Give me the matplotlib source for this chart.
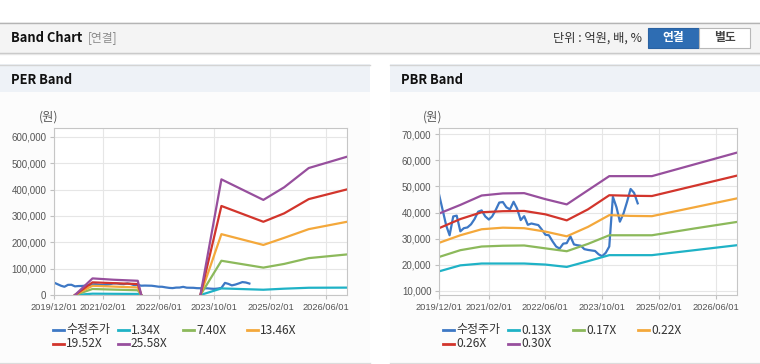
import numpy as np
import pandas as pd
import matplotlib
matplotlib.use('Agg')
import matplotlib.pyplot as plt
import matplotlib.dates as mdates
import matplotlib.ticker as mticker
from matplotlib.patches import Rectangle
from matplotlib.lines import Line2D

plt.rcParams['font.family'] = ['Noto Sans CJK KR', 'DejaVu Sans']

# ---- data ----
price_dates = pd.date_range('2019-12-01', periods=57, freq='MS')
price = [47000, 41000, 35000, 31300, 38500, 38800, 32800, 34000, 34300, 35500,
         37500, 40300, 40800, 38500, 37300, 38500, 41000, 43800, 44000, 42000,
         41200, 44100, 41500, 37100, 38600, 35300, 35800, 35500, 35200, 33500,
         31500, 31300, 29000, 27000, 26200, 28100, 28300, 30900, 27800, 27500,
         27300, 26000, 25700, 25500, 25300, 24000, 23300, 24600, 27000, 46000,
         42000, 36500, 39600, 44000, 49000, 47500, 43500]

per_dates = pd.to_datetime(['2020-06-01', '2020-11-01', '2021-05-01', '2021-12-01',
                            '2022-01-01', '2022-06-01', '2023-06-01', '2023-12-01',
                            '2024-12-01', '2025-06-01', '2026-01-01', '2026-12-01'])
per_labels = ['1.34X', '7.40X', '13.46X', '19.52X', '25.58X']
per_134 = [0, 5000, 4500, 4000, 0, np.nan, 0, 25000, 20000, 24000, 27500, 28000]
per_740 = [0, 22800, 20500, 18000, 0, np.nan, 0, 130000, 104000, 118000, 140000, 154000]
per_1346 = [0, 35000, 32000, 28500, 0, np.nan, 0, 231000, 190000, 217000, 250000, 278000]
per_1952 = [0, 48000, 45000, 41500, 0, np.nan, 0, 338000, 278000, 310000, 364000, 401000]
per_2558 = [0, 63000, 58000, 54000, 0, np.nan, 0, 439000, 361000, 409000, 482000, 525000]

pbr_dates = pd.to_datetime(['2019-12-01', '2020-06-01', '2020-12-01', '2021-06-01',
                            '2021-12-01', '2022-06-01', '2022-12-01', '2023-06-01',
                            '2023-12-01', '2024-06-01', '2024-12-01', '2025-12-01',
                            '2026-12-01'])
pbr_labels = ['0.13X', '0.17X', '0.22X', '0.26X', '0.30X']
pbr_013 = [17500, 19800, 20500, 20500, 20500, 20100, 19200, 21400, 23700, 23700, 23700, 25600, 27500]
pbr_017 = [23000, 25600, 27000, 27300, 27400, 26300, 25200, 28000, 31300, 31300, 31300, 33900, 36400]
pbr_022 = [28400, 31300, 33600, 34200, 34000, 32700, 30900, 34500, 39000, 38700, 38600, 42000, 45400]
pbr_026 = [34000, 37500, 40100, 40500, 40600, 39300, 37000, 41200, 46600, 46400, 46300, 50200, 54100]
pbr_030 = [39600, 42900, 46500, 47300, 47400, 45100, 43100, 48500, 53900, 53900, 53900, 58400, 62900]

tick_dates = pd.to_datetime(['2019-12-01', '2021-02-01', '2022-06-01',
                             '2023-10-01', '2025-02-01', '2026-06-01'])

colors = ['#3d78c5', '#1fb2c6', '#8cb95b', '#f4a83b', '#d2352c', '#974f9d']

W, H = 760, 364
fig = plt.figure(figsize=(W / 100, H / 100), dpi=100)
fig.patch.set_facecolor('white')


def rect(x0, y0, x1, y1, z=-5, **kw):
    fig.add_artist(Rectangle((x0 / W, 1 - y1 / H), (x1 - x0) / W, (y1 - y0) / H,
                             transform=fig.transFigure, zorder=z, **kw))


def hline(x0, x1, y, color, lw=1):
    fig.add_artist(Line2D([x0 / W, x1 / W], [1 - y / H] * 2,
                          transform=fig.transFigure, color=color, lw=lw, zorder=-4))


def text(x, y, s, **kw):
    fig.text(x / W, 1 - y / H, s, **kw)


# header bar
rect(0, 22, W, 53, fc='#f4f4f4', ec='none')
hline(0, W, 22.5, '#b4b4b4')
hline(0, W, 53, '#c4c4c4')
hline(0, W, 54, '#e6e6e6')
text(11, 38, 'Band Chart', fontsize=9.3, fontweight='bold', color='#111', va='center')
text(88, 38, '[연결]', fontsize=8.5, color='#8a8a8a', va='center')
text(642, 38, '단위 : 억원, 배, %', fontsize=8.8, color='#333', va='center', ha='right')
rect(648, 28, 699, 48, z=1, fc='#2e6db3', ec='#2a62a2', lw=0.8)
rect(699, 28, 750, 48, z=1, fc='white', ec='#b8b8b8', lw=0.8)
text(673.5, 37.5, '연결', fontsize=8.5, fontweight='bold', color='white', va='center', ha='center')
text(724.5, 37.5, '별도', fontsize=8.5, fontweight='bold', color='#444', va='center', ha='center')

# panels
for x0, x1, title in [(0, 370, 'PER Band'), (390, W, 'PBR Band')]:
    rect(x0, 92, x1, 362, fc='#fcfcfc', ec='none')
    rect(x0, 64, x1, 92, fc='#eef2f7', ec='none')
    hline(x0, x1, 64.5, '#d4d4d4')
    hline(x0, x1, 362.5, '#dcdcdc')
    text(x0 + 11, 79.5, title, fontsize=9.3, fontweight='bold', color='#111', va='center')


def style(ax):
    ax.set_facecolor('white')
    for s in ax.spines.values():
        s.set_color('#c6c6c6')
        s.set_linewidth(0.8)
    ax.grid(True, color='#e6e6e6', lw=0.8)
    ax.set_axisbelow(True)
    ax.tick_params(length=3, width=0.8, color='#c0c0c0', labelcolor='#555',
                   labelsize=7, pad=2.5, labelfontfamily='Liberation Sans')
    ax.tick_params(axis='x', labelsize=6.7)
    ax.set_xticks(tick_dates)
    ax.xaxis.set_major_formatter(mdates.DateFormatter('%Y/%m/%d'))
    ax.yaxis.set_major_formatter(mticker.FuncFormatter(lambda v, p: f'{int(v):,}'))
    ax.set_xlim(pd.Timestamp('2019-12-01'), pd.Timestamp('2026-12-01'))


def legend(x_cols, labels):
    rows = [330, 343.5]
    for i, (lab, c) in enumerate(zip(labels, colors)):
        x = x_cols[i % 4]
        y = rows[i // 4]
        fig.add_artist(Line2D([x / W, (x + 11) / W], [1 - y / H] * 2,
                              transform=fig.transFigure, color=c, lw=2))
        text(x + 13, y, lab, fontsize=8.6, color='#333', va='center')


# PER chart
ax1 = fig.add_axes([54 / W, 1 - 295 / H, 293 / W, 167 / H])
ax1.plot(price_dates, price, color=colors[0], lw=1.6)
for vals, c in zip([per_134, per_740, per_1346, per_1952, per_2558], colors[1:]):
    ax1.plot(per_dates, vals, color=c, lw=1.6)
style(ax1)
ax1.set_ylim(0, 634000)
ax1.set_yticks(np.arange(0, 600001, 100000))
text(39, 117, '(원)', fontsize=8.8, color='#555', va='center')
legend([53, 118, 183, 247], ['수정주가'] + per_labels)

# PBR chart
ax2 = fig.add_axes([439 / W, 1 - 295 / H, 298 / W, 167 / H])
ax2.plot(price_dates, price, color=colors[0], lw=1.6)
for vals, c in zip([pbr_013, pbr_017, pbr_022, pbr_026, pbr_030], colors[1:]):
    ax2.plot(pbr_dates, vals, color=c, lw=1.6)
style(ax2)
ax2.set_ylim(8470, 72300)
ax2.set_yticks(np.arange(10000, 70001, 10000))
text(423, 117, '(원)', fontsize=8.8, color='#555', va='center')
legend([443, 508, 573, 638], ['수정주가'] + pbr_labels)

fig.savefig('out.png', dpi=100, facecolor='white')
